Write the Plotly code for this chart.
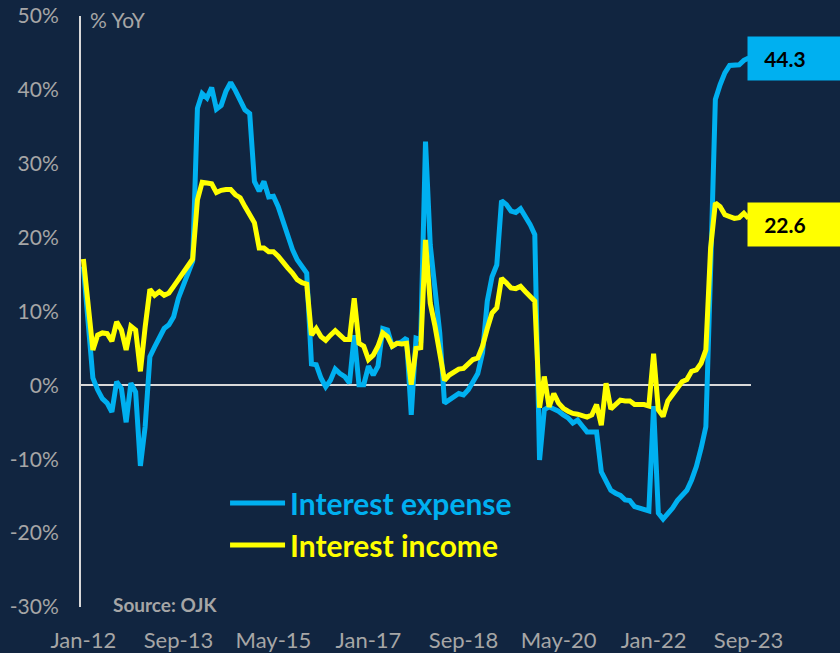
import plotly.graph_objects as go
import pandas as pd

BG_COLOR = '#112540'
EXPENSE_COLOR = '#00b0f0'
INCOME_COLOR = '#ffff00'
AXIS_TEXT = '#a6a6a6'
FONT = 'Lato, Open Sans, sans-serif'

months = pd.date_range('2012-01-01', periods=141, freq='MS')
month_labels = [d.strftime('%b-%y') for d in months]

interest_expense = [
    16.1, 8.5, 1.0, -0.6, -1.8, -2.4, -3.6, 0.5, -0.4, -5.0,
    0.3, -0.9, -10.9, -5.6, 3.9, 5.2, 6.6, 7.7, 8.2, 9.3,
    11.8, 13.4, 15.2, 16.8, 37.5, 39.5, 38.9, 40.3, 37.4, 37.9,
    39.8, 41.0, 39.9, 38.7, 37.3, 36.8, 27.6, 26.3, 27.6, 25.5,
    25.6, 24.2, 22.2, 20.2, 18.4, 17.0, 16.1, 15.2, 2.9, 2.8,
    1.0, -0.2, 0.7, 2.2, 1.6, 1.2, 0.3, 6.8, 0.1, 0.1,
    2.6, 1.4, 2.6, 7.7, 7.5, 5.3, 5.7, 5.9, 6.4, -4.0,
    6.4, 6.2, 33.0, 19.0, 13.0, 7.1, -2.4, -1.9, -1.5, -1.1,
    -1.3, -0.6, 0.5, 1.6, 4.4, 11.4, 14.7, 16.3, 25.0, 24.5,
    23.6, 23.4, 23.9, 22.9, 21.8, 20.4, -10.1, -3.3, -2.9, -3.2,
    -3.5, -4.0, -4.4, -5.1, -4.7, -5.5, -6.3, -6.3, -6.3, -11.7,
    -12.8, -14.2, -14.6, -14.9, -15.5, -15.6, -16.4, -16.6, -16.9, -17.0,
    -2.8, -17.3, -18.1, -17.4, -16.6, -15.6, -14.8, -14.2, -12.8, -11.0,
    -8.5, -5.6, 15.6, 38.7, 40.7, 42.3, 43.3, 43.3, 43.4, 44.0,
    44.3,
]

interest_income = [
    17.1, 11.0, 4.8, 6.8, 7.1, 7.0, 6.0, 8.6, 7.5, 4.8,
    8.0, 7.5, 1.9, 7.9, 13.0, 12.2, 12.7, 12.2, 12.5, 13.4,
    14.3, 15.2, 16.3, 17.1, 25.1, 27.5, 27.4, 27.3, 26.1, 26.4,
    26.5, 26.5, 25.8, 25.4, 24.2, 23.2, 22.0, 18.6, 18.6, 18.1,
    18.1, 17.5, 16.6, 15.9, 15.2, 14.3, 13.9, 13.7, 6.8, 7.7,
    6.6, 6.1, 6.8, 7.4, 6.8, 6.2, 6.2, 11.8, 5.7, 5.3,
    3.5, 4.1, 5.3, 7.1, 6.6, 5.3, 5.7, 5.6, 5.7, 0.1,
    5.0, 5.1, 19.7, 11.1, 8.0, 4.5, 0.7, 1.4, 1.9, 2.2,
    2.3, 3.0, 3.5, 3.7, 5.3, 7.7, 9.8, 10.5, 14.5, 13.9,
    13.2, 13.1, 13.4, 12.7, 12.0, 11.4, -3.0, 1.2, -2.9, -1.1,
    -2.4, -3.1, -3.5, -3.8, -3.9, -4.1, -4.3, -4.0, -2.6, -5.4,
    0.3, -3.2, -2.6, -2.0, -2.1, -2.1, -2.6, -2.6, -2.6, -2.8,
    4.3, -3.3, -4.2, -2.1, -1.2, -0.3, 0.5, 0.8, 1.9, 2.1,
    3.0, 4.8, 18.6, 24.7, 24.2, 23.1, 22.9, 22.6, 22.7, 23.3,
    22.6,
]

y_ticks = [-30, -20, -10, 0, 10, 20, 30, 40, 50]
y_ticktext = [f"{v}%" for v in y_ticks]

x = list(range(len(months)))
tick_idx = x[::20]

fig = go.Figure()
fig.add_trace(go.Scatter(
    x=x, y=interest_expense, mode='lines', legendgroup='a',
    name=f"<span style='color:{EXPENSE_COLOR}'><b>Interest expense</b></span>",
    line=dict(color=EXPENSE_COLOR, width=5)))
fig.add_trace(go.Scatter(
    x=x, y=interest_income, mode='lines', legendgroup='b',
    name=f"<span style='color:{INCOME_COLOR}'><b>Interest income</b></span>",
    line=dict(color=INCOME_COLOR, width=5)))

# end-of-line value boxes
for vals, col, shift in [(interest_expense, EXPENSE_COLOR, 0), (interest_income, INCOME_COLOR, -6)]:
    fig.add_annotation(x=x[-1], y=vals[-1], xref='x', yref='y', xanchor='left', yanchor='middle',
                       xshift=-2, yshift=shift,
                       text="&nbsp;&nbsp;&nbsp;" + f"<b>{vals[-1]:.1f}</b>",
                       showarrow=False, bgcolor=col, width=100, height=43, align='left', borderpad=0,
                       font=dict(family=FONT, size=21, color='black'))

fig.add_annotation(x=0.011, y=0.994, xref='paper', yref='paper', xanchor='left', yanchor='middle',
                   text='% YoY', showarrow=False, font=dict(family=FONT, size=21, color=AXIS_TEXT))
fig.add_annotation(x=0.045, y=0.004, xref='paper', yref='paper', xanchor='left', yanchor='middle',
                   text='<b>Source: OJK</b>', showarrow=False, font=dict(family=FONT, size=19, color=AXIS_TEXT))

fig.update_layout(
    width=840, height=653,
    margin=dict(l=81, r=89, t=16, b=46, autoexpand=False),
    paper_bgcolor=BG_COLOR, plot_bgcolor=BG_COLOR,
    font=dict(family=FONT, color=AXIS_TEXT),
    showlegend=True,
    legend=dict(x=0.215, y=0.22, xanchor='left', yanchor='top', bgcolor='rgba(0,0,0,0)',
                font=dict(family=FONT, size=30), traceorder='grouped', tracegroupgap=0,
                itemwidth=55),
    xaxis=dict(range=[-0.5, 140.5], tickvals=tick_idx, ticktext=[month_labels[i] for i in tick_idx],
               showgrid=False, zeroline=False, showline=False, ticks='', automargin=False,
               tickfont=dict(family=FONT, size=22, color=AXIS_TEXT), ticklabelstandoff=18),
    yaxis=dict(range=[-30, 50], tickvals=y_ticks, ticktext=y_ticktext, showgrid=False,
               zeroline=True, zerolinecolor='#d9d9d9', zerolinewidth=2,
               showline=True, linecolor='#d9d9d9', linewidth=2, ticks='', automargin=False,
               tickfont=dict(family=FONT, size=21, color=AXIS_TEXT), ticklabelstandoff=16),
)

# page body has a default 8px margin; drop it so the figure fills the window
fig.write_html("out.html", config={'displayModeBar': False},
               post_script=f"document.body.style.margin='0';document.body.style.background='{BG_COLOR}';")
